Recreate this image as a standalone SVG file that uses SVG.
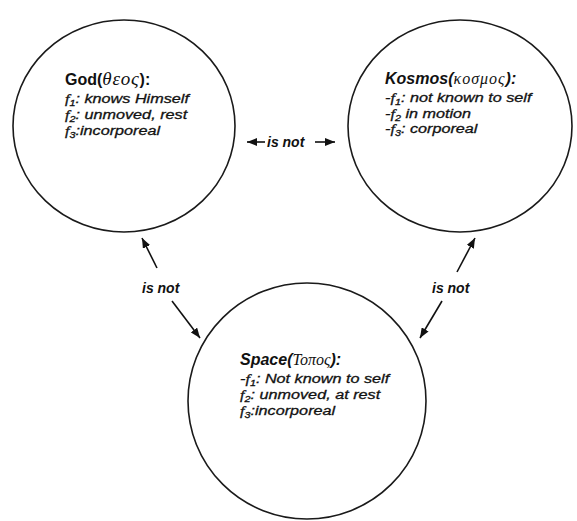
<svg xmlns="http://www.w3.org/2000/svg" width="577" height="521" viewBox="0 0 577 521">
<style>
.c{fill:none;stroke:#1a1a1a;stroke-width:1.6}
.t{font-family:"Liberation Sans",Arial,sans-serif;fill:#111}
.h{font-size:16px;font-weight:bold}
.b{font-size:13.5px;font-style:italic;stroke:#111;stroke-width:0.3}
.g{font-family:"Liberation Serif","Times New Roman",serif;font-style:italic;font-weight:normal}
.s{font-size:9px}
.e{stroke:#111;stroke-width:1.6;fill:none;marker-end:url(#ah)}
.l{font-family:"Liberation Sans",Arial,sans-serif;font-size:14px;font-weight:bold;font-style:italic;fill:#111}
</style>
<defs>
<marker id="ah" viewBox="0 0 10 8" refX="10" refY="4" markerWidth="10" markerHeight="8" markerUnits="userSpaceOnUse" orient="auto">
<path d="M0,0 L10,4 L0,8 z" fill="#111"/>
</marker>
</defs>
<rect width="577" height="521" fill="#fff"/>
<g id="god">
<ellipse class="c" cx="124" cy="126" rx="111" ry="106"/>
<text class="t h" x="65" y="85">God(<tspan class="g" font-size="19px" letter-spacing="0.8">θεος</tspan>):</text>
<g transform="matrix(1.2,0,0,1,-13,0)">
<text class="t b" x="65" y="103"><tspan class="g">f</tspan><tspan class="s" dy="3">1</tspan><tspan dy="-3">: knows Himself</tspan></text>
<text class="t b" x="65" y="119"><tspan class="g">f</tspan><tspan class="s" dy="3">2</tspan><tspan dy="-3">: unmoved, rest</tspan></text>
<text class="t b" x="65" y="135"><tspan class="g">f</tspan><tspan class="s" dy="3">3</tspan><tspan dy="-3">:incorporeal</tspan></text>
</g>
</g>
<g id="kosmos">
<ellipse class="c" cx="460" cy="126" rx="112" ry="106"/>
<text class="t h" x="385" y="84" font-style="italic">Kosmos(<tspan class="g" letter-spacing="1">κοσμος</tspan>):</text>
<g transform="matrix(1.2,0,0,1,-77,0)">
<text class="t b" x="385" y="102">-<tspan class="g">f</tspan><tspan class="s" dy="3">1</tspan><tspan dy="-3">: not known to self</tspan></text>
<text class="t b" x="385" y="118">-<tspan class="g">f</tspan><tspan class="s" dy="3">2</tspan><tspan dy="-3"> in motion</tspan></text>
<text class="t b" x="385" y="133">-<tspan class="g">f</tspan><tspan class="s" dy="3">3</tspan><tspan dy="-3">: corporeal</tspan></text>
</g>
</g>
<g id="space">
<ellipse class="c" cx="307" cy="401" rx="119" ry="118"/>
<text class="t h" x="240" y="365" font-style="italic">Space(<tspan class="g">Τοπος</tspan>):</text>
<g transform="matrix(1.2,0,0,1,-48,0)">
<text class="t b" x="240" y="383">-<tspan class="g">f</tspan><tspan class="s" dy="3">1</tspan><tspan dy="-3">: Not known to self</tspan></text>
<text class="t b" x="240" y="399"><tspan class="g">f</tspan><tspan class="s" dy="3">2</tspan><tspan dy="-3">: unmoved, at rest</tspan></text>
<text class="t b" x="240" y="415"><tspan class="g">f</tspan><tspan class="s" dy="3">3</tspan><tspan dy="-3">:incorporeal</tspan></text>
</g>
</g>
<g id="connectors">
<line class="e" x1="265" y1="142" x2="247" y2="142"/>
<line class="e" x1="315" y1="142" x2="335" y2="142"/>
<text class="l" x="267" y="147">is not</text>
<line class="e" x1="157" y1="268" x2="142" y2="238"/>
<line class="e" x1="172" y1="301" x2="200" y2="338"/>
<text class="l" x="142" y="293">is not</text>
<line class="e" x1="457" y1="272" x2="475" y2="238"/>
<line class="e" x1="442" y1="301" x2="420" y2="338"/>
<text class="l" x="432" y="293">is not</text>
</g>
</svg>
